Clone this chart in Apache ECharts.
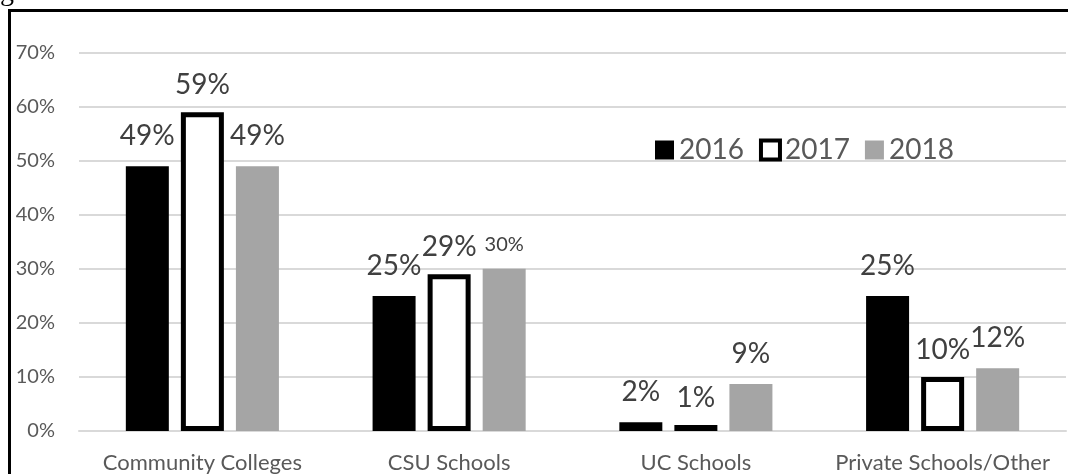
<!DOCTYPE html>
<html>
<head>
<meta charset="utf-8">
<script src="https://cdn.jsdelivr.net/npm/echarts@6/dist/echarts.min.js"></script>
<style>
  html, body { margin: 0; padding: 0; background: #fff; }
  #main { width: 1068px; height: 474px; }
</style>
</head>
<body>
<div id="main"></div>
<script>
// chart data
const categories = ["Community Colleges", "CSU Schools", "UC Schools", "Private Schools/Other"];
const years = ["2016", "2017", "2018"];
const v2016 = [49, 25, 1.6, 25];
const v2017 = [59, 29, 1.1, 10];
const v2018 = [49, 30, 8.7, 11.6];
const yTicks = { min: 0, max: 70, step: 10 };

const chart = echarts.init(document.getElementById("main"));
const FONT = "Lato";

function pct(p) {
  return Math.round(p.value) + "%";
}

const labelBase = {
  show: true,
  position: "top",
  distance: 16,
  fontFamily: FONT,
  fontSize: 28,
  color: "#404040",
  formatter: pct
};

const option = {
  backgroundColor: "#fff",
  animation: false,
  textStyle: { fontFamily: FONT },
  graphic: [
    // frame round the chart (runs off the right and bottom)
    { type: "rect", z: 0, shape: { x: 9.5, y: 10.5, width: 1200, height: 600 },
      style: { fill: "none", stroke: "#000", lineWidth: 3 } },
    // cut-off line of text from the page above
    { type: "text", left: 0, top: -21,
      style: { text: "graduation.", fontFamily: "Liberation Serif", fontSize: 28, fill: "#000" } }
  ],
  grid: { left: 79, right: 2, top: 52.7, bottom: 43, containLabel: false },
  legend: {
    left: 650,
    top: 131,
    icon: "rect",
    itemWidth: 19,
    itemHeight: 19,
    itemGap: 15,
    textStyle: { fontFamily: FONT, fontSize: 28, color: "#595959" },
    data: [
      { name: "2016", itemStyle: { color: "#000", borderWidth: 0 } },
      { name: "2017", itemStyle: { color: "#fff", borderColor: "#000", borderWidth: 4 } },
      { name: "2018", itemStyle: { color: "#a5a5a5", borderWidth: 0 } }
    ]
  },
  xAxis: {
    type: "category",
    data: categories,
    axisLine: { show: true, lineStyle: { color: "#d9d9d9", width: 2 } },
    axisTick: { show: false },
    axisLabel: { interval: 0, fontFamily: FONT, fontSize: 22, color: "#595959", margin: 21 }
  },
  yAxis: {
    type: "value",
    min: yTicks.min,
    max: yTicks.max,
    interval: yTicks.step,
    axisLine: { show: false },
    axisTick: { show: false },
    splitLine: { lineStyle: { color: "#d9d9d9", width: 2 } },
    axisLabel: { fontFamily: FONT, fontSize: 20, color: "#595959", margin: 24, formatter: "{value}%" }
  },
  series: [
    {
      name: years[0], type: "bar", barWidth: 43, barGap: "28%",
      itemStyle: { color: "#000" },
      label: labelBase,
      data: v2016
    },
    {
      name: years[1], type: "bar", barWidth: 43, barGap: "28%",
      itemStyle: { color: "#fff", borderColor: "#000", borderWidth: 5 },
      label: Object.assign({}, labelBase, { distance: 13 }),
      data: v2017
    },
    {
      name: years[2], type: "bar", barWidth: 43, barGap: "28%",
      itemStyle: { color: "#a5a5a5" },
      label: labelBase,
      // the CSU label is set in a smaller size in the original
      data: v2018.map((v, i) => i === 1 ? { value: v, label: { fontSize: 20, distance: 14 } } : v)
    }
  ]
};

chart.setOption(option);
</script>
</body>
</html>
